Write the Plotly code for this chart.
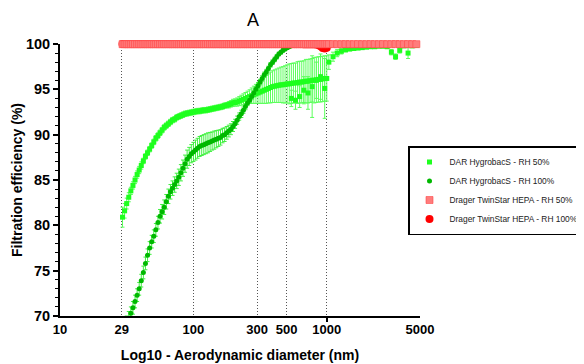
import plotly.graph_objects as go

# ---------------- data ----------------
# SMPS size channels (nm)
smps_d = [29.43, 30.51, 31.62, 32.78, 33.98, 35.23, 36.52, 37.86, 39.24, 40.68,
          42.17, 43.71, 45.32, 46.98, 48.70, 50.48, 52.33, 54.25, 56.23, 58.29,
          60.43, 62.64, 64.94, 67.32, 69.78, 72.34, 74.99, 77.74, 80.58, 83.54,
          86.60, 89.77, 93.06, 96.47, 100.0, 103.7, 107.5, 111.4, 115.5, 119.7,
          124.1, 128.6, 133.4, 138.2, 143.3, 148.6, 154.0, 159.6, 165.5, 171.5,
          177.8, 184.3, 191.1, 198.1, 205.4, 212.9, 220.7, 228.8, 237.1, 245.8,
          254.8, 264.2, 273.8, 283.9, 294.3, 305.1, 316.2, 327.8, 339.8, 352.3,
          365.2, 378.6, 392.4, 406.8, 421.7, 437.1, 453.2, 469.8, 487.0, 504.8,
          523.3, 542.5, 562.3, 582.9, 604.3, 626.4, 649.4, 673.2, 697.8, 723.4,
          749.9, 777.4, 805.8, 835.4, 866.0, 897.7, 930.6, 964.7, 1000.0]

# APS size channels (nm)
aps_d = [542.5, 583.0, 626.0, 673.0, 723.0, 777.0, 835.0, 898.0, 965.0, 1037,
         1114, 1197, 1286, 1382, 1486, 1596, 1715, 1843, 1981, 2129,
         2288, 2458, 2642, 2839, 3051, 3278, 3523, 3786, 4068, 4371, 4698]

# DAR HygrobacS - RH 50%
dar50_smps = [80.9, 81.6, 82.4, 83.1, 83.8, 84.4, 85.0, 85.6, 86.1, 86.6,
              87.1, 87.6, 88.0, 88.4, 88.8, 89.2, 89.6, 89.9, 90.2, 90.5,
              90.8, 91.0, 91.2, 91.4, 91.6, 91.7, 91.9, 92.0, 92.1, 92.2,
              92.3, 92.35, 92.4, 92.45, 92.5, 92.55, 92.6, 92.6, 92.65, 92.7,
              92.7, 92.75, 92.8, 92.85, 92.9, 92.95, 93.0, 93.05, 93.1, 93.2,
              93.25, 93.3, 93.4, 93.5, 93.55, 93.6, 93.7, 93.8, 93.9, 94.0,
              94.1, 94.2, 94.3, 94.4, 94.5, 94.6, 94.7, 94.8, 94.9, 95.0,
              95.1, 95.2, 95.3, 95.35, 95.4, 95.45, 95.5, 95.5, 95.55, 95.6,
              95.6, 95.65, 95.7, 95.7, 95.75, 95.8, 95.8, 95.85, 95.9, 95.9,
              95.95, 96.0, 96.0, 96.05, 96.1, 96.1, 96.15, 96.2, 96.2]
dar50_smps_err = [1.1, 0.8, 0.6, 0.5, 0.4, 0.4, 0.4, 0.4, 0.4, 0.4,
                  0.3, 0.3, 0.3, 0.3, 0.3, 0.3, 0.3, 0.3, 0.3, 0.3,
                  0.3, 0.3, 0.3, 0.3, 0.3, 0.3, 0.3, 0.3, 0.3, 0.3,
                  0.3, 0.3, 0.3, 0.3, 0.3, 0.3, 0.3, 0.3, 0.3, 0.3,
                  0.3, 0.3, 0.3, 0.3, 0.3, 0.3, 0.3, 0.3, 0.3, 0.3,
                  0.3, 0.35, 0.35, 0.4, 0.4, 0.45, 0.5, 0.55, 0.6, 0.65,
                  0.7, 0.75, 0.85, 0.95, 1.05, 1.15, 1.25, 1.35, 1.45, 1.55,
                  1.6, 1.7, 1.75, 1.8, 1.85, 1.9, 1.95, 2.0, 2.05, 2.1,
                  2.2, 2.2, 2.2, 2.2, 2.3, 2.3, 2.3, 2.3, 2.4, 2.4,
                  2.4, 2.4, 2.5, 2.5, 2.5, 2.5, 2.5, 2.5, 2.5]
dar50_aps = [94.0, 93.8, 94.2, 94.9, 94.6, 95.3, 96.0, 96.4, 95.1, 98.0,
             98.6, 99.0, 99.2, 99.35, 99.45, 99.5, 99.55, 99.6, 99.65, 99.7,
             99.7, 99.75, 99.75, 99.7, 99.1, 98.6, 99.3, 99.8, 99.0, 99.8, 99.85]
dar50_aps_err = [0.9, 1.0, 1.2, 1.5, 1.8, 3.4, 2.0, 2.5, 3.3, 0.8,
                 0.5, 0.4, 0.3, 0.2, 0.2, 0.15, 0.15, 0.1, 0.1, 0.1,
                 0.1, 0.1, 0.1, 0.15, 0.3, 0.3, 0.3, 0.2, 0.6, 0.2, 0.1]

# DAR HygrobacS - RH 100%
dar100 = [67.8, 68.6, 69.3, 69.8, 70.3, 70.9, 71.6, 72.3, 73.0, 73.9,
          74.8, 75.8, 76.7, 77.5, 78.2, 78.8, 79.5, 80.3, 81.0, 81.5,
          82.0, 82.6, 83.2, 83.7, 84.1, 84.5, 84.9, 85.3, 85.8, 86.3,
          86.8, 87.3, 87.6, 87.9, 88.1, 88.3, 88.5, 88.7, 88.8, 88.9,
          89.0, 89.1, 89.2, 89.3, 89.4, 89.5, 89.6, 89.7, 89.9, 90.0,
          90.2, 90.4, 90.6, 90.9, 91.2, 91.6, 92.0, 92.3, 92.7, 93.1,
          93.5, 93.8, 94.2, 94.6, 95.0, 95.4, 95.8, 96.2, 96.6, 96.9,
          97.3, 97.7, 98.0, 98.3, 98.6, 98.9, 99.1, 99.3, 99.45, 99.6,
          99.7, 99.8, 99.85, 99.9, 99.9, 99.92, 99.93, 99.94, 99.95, 99.95,
          99.96, 99.96, 99.97, 99.97, 99.97, 99.97, 99.98, 99.98, 99.98]
dar100_err = [0.7, 0.7, 0.7, 0.7, 0.7, 0.7, 0.7, 0.7, 0.7, 0.7,
              0.7, 0.7, 0.7, 0.7, 0.7, 0.7, 0.7, 0.7, 0.75, 0.8,
              0.8, 0.8, 0.8, 0.8, 0.8, 0.85, 0.85, 0.9, 0.9, 0.9,
              0.95, 1.0, 1.0, 1.0, 1.05, 1.1, 1.1, 1.1, 1.1, 1.1,
              1.1, 1.1, 1.05, 1.0, 1.0, 0.95, 0.9, 0.85, 0.8, 0.75,
              0.7, 0.65, 0.6, 0.55, 0.5, 0.45, 0.4, 0.4, 0.35, 0.35,
              0.3, 0.3, 0.3, 0.3, 0.3, 0.3, 0.3, 0.3, 0.3, 0.3,
              0.25, 0.25, 0.25, 0.25, 0.25, 0.2, 0.2, 0.2, 0.2, 0.2,
              0.15, 0.15, 0.15, 0.15, 0.15, 0.15, 0.15, 0.15, 0.15, 0.15,
              0.1, 0.1, 0.1, 0.1, 0.1, 0.1, 0.1, 0.1, 0.1]

# Drager TwinStar HEPA - RH 50%
drager50_smps = [99.98, 99.98, 99.99, 99.98, 99.98, 99.99, 99.98, 99.98, 99.99, 99.98,
                 99.98, 99.99, 99.98, 99.98, 99.99, 99.98, 99.98, 99.99, 99.98, 99.98,
                 99.99, 99.98, 99.98, 99.99, 99.98, 99.98, 99.99, 99.98, 99.98, 99.99,
                 99.98, 99.98, 99.99, 99.98, 99.98, 99.99, 99.98, 99.98, 99.99, 99.98,
                 99.98, 99.99, 99.98, 99.98, 99.99, 99.98, 99.98, 99.99, 99.98, 99.98,
                 99.99, 99.98, 99.98, 99.99, 99.98, 99.98, 99.99, 99.98, 99.98, 99.99,
                 99.98, 99.98, 99.99, 99.98, 99.98, 99.99, 99.98, 99.98, 99.99, 99.98,
                 99.98, 99.99, 99.98, 99.98, 99.99, 99.98, 99.98, 99.99, 99.98, 99.98,
                 99.99, 99.98, 99.98, 99.99, 99.98, 99.98, 99.99, 99.98, 99.98, 99.99,
                 99.98, 99.98, 99.99, 99.98, 99.98, 99.99, 99.98, 99.98, 99.99]
drager50_aps = [99.98, 99.99, 99.98, 99.98, 99.99, 99.98, 99.98, 99.99, 99.98, 99.98,
                99.99, 99.98, 99.98, 99.99, 99.98, 99.98, 99.99, 99.98, 99.98, 99.99,
                99.98, 99.98]

# Drager TwinStar HEPA - RH 100%
drager100 = [99.99, 99.99, 99.99, 99.99, 99.99, 99.99, 99.99, 99.99, 99.99, 99.99,
             99.99, 99.99, 99.99, 99.99, 99.99, 99.99, 99.99, 99.99, 99.99, 99.99,
             99.99, 99.99, 99.99, 99.99, 99.99, 99.99, 99.99, 99.99, 99.99, 99.99,
             99.99, 99.99, 99.99, 99.99, 99.99, 99.99, 99.99, 99.99, 99.99, 99.99,
             99.99, 99.99, 99.99, 99.99, 99.99, 99.99, 99.99, 99.99, 99.99, 99.99,
             99.99, 99.99, 99.99, 99.99, 99.99, 99.99, 99.99, 99.99, 99.99, 99.99,
             99.99, 99.99, 99.99, 99.99, 99.99, 99.99, 99.99, 99.99, 99.99, 99.99,
             99.99, 99.99, 99.99, 99.99, 99.99, 99.99, 99.99, 99.99, 99.99, 99.99,
             99.99, 99.99, 99.99, 99.99, 99.99, 99.99, 99.99, 99.98, 99.98, 99.98,
             99.97, 99.97, 99.96, 99.95, 99.9, 99.75, 99.55, 99.5, 99.6]

tick_vals = [10, 29, 100, 300, 500, 1000, 5000]
tick_text = ["10", "29", "100", "300", "500", "1000", "5000"]

# ---------------- figure ----------------
FONT = "Liberation Sans, Arial, sans-serif"

fig = go.Figure()

fig.add_trace(go.Scatter(
    x=smps_d + aps_d, y=dar50_smps + dar50_aps,
    mode="markers", name="DAR HygrobacS - RH 50%",
    marker=dict(symbol="square", size=5, color="#1EFF1E"),
    error_y=dict(type="data", array=dar50_smps_err + dar50_aps_err,
                 color="#5CFF5C", thickness=1, width=2),
    legendrank=1,
))
fig.add_trace(go.Scatter(
    x=smps_d, y=dar100,
    mode="markers", name="DAR HygrobacS - RH 100%",
    marker=dict(symbol="circle", size=5, color="#00B800"),
    error_y=dict(type="data", array=dar100_err,
                 color="#40F040", thickness=1, width=2),
    legendrank=2,
))
fig.add_trace(go.Scatter(
    x=smps_d, y=drager100,
    mode="markers", name="Drager TwinStar HEPA - RH 100%",
    marker=dict(symbol="circle", size=8, color="#FF0000"),
    cliponaxis=False,
    legendrank=4,
))
fig.add_trace(go.Scatter(
    x=smps_d + aps_d[9:], y=drager50_smps + drager50_aps,
    mode="markers", name="Drager TwinStar HEPA - RH 50%",
    marker=dict(symbol="square", size=7, color="#FF7C7C",
                line=dict(color="#FF4848", width=0.6)),
    cliponaxis=False,
    legendrank=3,
))

# the page body has an 8px margin: the figure is sized to fill the 584x364 window
fig.update_layout(
    width=576, height=356,
    margin=dict(l=52, r=164, t=36, b=48, autoexpand=False),
    paper_bgcolor="white", plot_bgcolor="white",
    font=dict(family=FONT, color="black"),
    title=dict(text="A", x=245 / 576, xanchor="center", y=1 - 12 / 356,
               yanchor="middle", font=dict(size=18, family=FONT, color="black")),
    showlegend=True,
    legend=dict(x=(400 - 52) / 360, xanchor="left", y=0.625, yanchor="top",
                bordercolor="black", borderwidth=1.5, bgcolor="rgba(255,255,255,0)",
                font=dict(size=8.4, family=FONT, color="#222"),
                tracegroupgap=0),
)

fig.update_xaxes(
    type="log", range=[1, 3.69897],
    tickvals=tick_vals, ticktext=tick_text,
    ticks="", showgrid=True, gridcolor="#555", gridwidth=1, griddash="1px,2px",
    showline=True, linecolor="black", linewidth=2,
    tickfont=dict(size=13, family=FONT, weight="bold", color="black"),
    minor=dict(tickvals=[1000], ticks="outside", ticklen=4, tickwidth=1.5,
               tickcolor="black", showgrid=False),
    title=dict(text="Log10 - Aerodynamic diameter (nm)", standoff=15,
               font=dict(size=14, family=FONT, weight="bold", color="black")),
    zeroline=False,
)
fig.update_yaxes(
    range=[70, 100], tick0=70, dtick=5,
    ticks="outside", ticklen=5, tickwidth=1.5, tickcolor="black",
    minor=dict(dtick=1, ticks="outside", ticklen=3, tickwidth=1, tickcolor="black"),
    showgrid=False, zeroline=False,
    showline=True, linecolor="black", linewidth=2,
    tickfont=dict(size=14.5, family=FONT, weight="bold", color="black"),
    title=dict(text="Filtration efficiency (%)", standoff=0,
               font=dict(size=14, family=FONT, weight="bold", color="black")),
)

fig.write_html("out.html")
